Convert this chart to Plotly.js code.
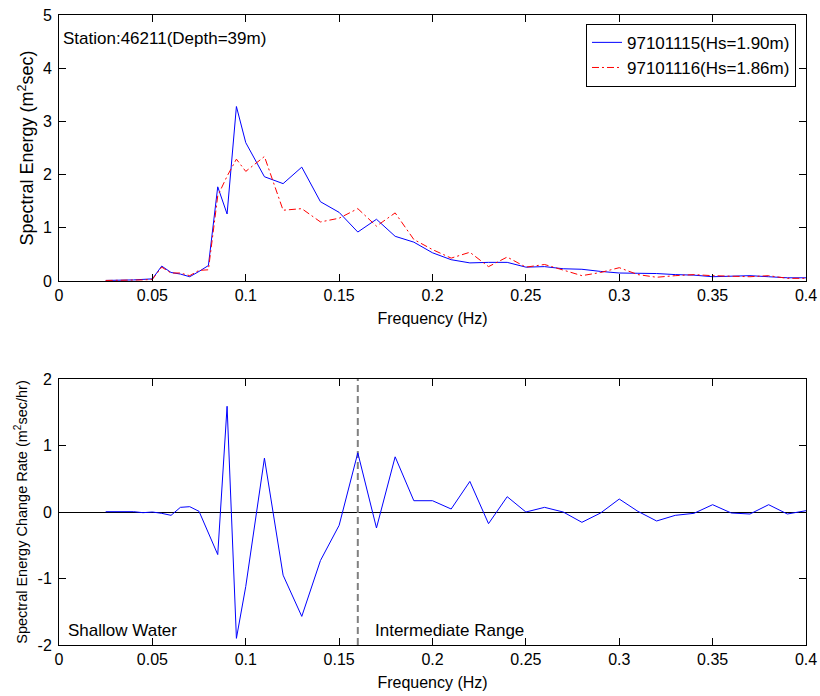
<!DOCTYPE html>
<html>
<head>
<meta charset="utf-8">
<script src="https://cdn.plot.ly/plotly-3.0.1.min.js"></script>
<style>html,body{margin:0;padding:0;background:#fff;}#chart{width:820px;height:696px;}</style>
</head>
<body>
<div id="chart"></div>
<script>
// Frequencies (Hz)
const freq = [0.025,0.03,0.035,0.04,0.045,0.05,0.055,0.06,0.065,0.07,0.075,0.08,0.085,0.09,0.095,0.1,
  0.11,0.12,0.13,0.14,0.15,0.16,0.17,0.18,0.19,0.2,0.21,0.22,0.23,0.24,0.25,0.26,0.27,0.28,0.29,0.3,
  0.31,0.32,0.33,0.34,0.35,0.36,0.37,0.38,0.39,0.4];
// Spectral energy, 97101115 (Hs=1.90m)
const energy15 = [0.01,0.01,0.01,0.02,0.03,0.04,0.28,0.16,0.13,0.08,0.18,0.29,1.77,1.26,3.28,2.6,
  1.96,1.83,2.14,1.49,1.29,0.92,1.16,0.84,0.73,0.53,0.40,0.34,0.35,0.35,0.26,0.27,0.23,0.22,0.18,0.15,
  0.145,0.14,0.12,0.11,0.08,0.085,0.10,0.08,0.06,0.06];
// Spectral energy, 97101116 (Hs=1.86m)
const energy16 = [0.01,0.01,0.01,0.01,0.02,0.03,0.26,0.15,0.15,0.10,0.20,0.21,1.6,1.97,2.29,2.06,
  2.34,1.33,1.36,1.11,1.18,1.36,1.03,1.28,0.78,0.59,0.43,0.54,0.27,0.45,0.26,0.31,0.21,0.10,0.16,0.25,
  0.12,0.07,0.10,0.12,0.10,0.09,0.08,0.10,0.05,0.05];
// Spectral energy change rate (m^2 sec/hr)
const changeRate = [0.005,0.005,0.005,0.005,-0.01,0.0,-0.02,-0.05,0.07,0.08,0.01,-0.31,-0.64,1.59,-1.90,-1.12,
  0.81,-0.95,-1.57,-0.73,-0.2,0.89,-0.24,0.83,0.17,0.17,0.045,0.46,-0.175,0.23,0.0,0.07,0.0,-0.155,-0.015,0.195,
  0.01,-0.135,-0.05,-0.02,0.11,-0.015,-0.03,0.11,-0.03,0.02];
// Shallow / intermediate boundary
const boundaryX = [0.16, 0.16];
const boundaryY = [-2, 2];
const seriesNames = ['97101115(Hs=1.90m)', '97101116(Hs=1.86m)'];
const xTickVals = [0,0.05,0.1,0.15,0.2,0.25,0.3,0.35,0.4];
const xTickText = ['0','0.05','0.1','0.15','0.2','0.25','0.3','0.35','0.4'];
const y1TickVals = [0,1,2,3,4,5];
const y1TickText = ['0','1','2','3','4','5'];
const y2TickVals = [-2,-1,0,1,2];
const y2TickText = ['-2','-1','0','1','2'];

const FONT = 'Arial, "Liberation Sans", sans-serif';
const fs = 16;

const traces = [
  {x: freq, y: energy15, name: seriesNames[0], type: 'scatter', mode: 'lines',
   line: {color: '#0000ff', width: 1}, xaxis: 'x', yaxis: 'y'},
  {x: freq, y: energy16, name: seriesNames[1], type: 'scatter', mode: 'lines',
   line: {color: '#ff0000', width: 1, dash: '7px,3px,2px,3px'}, xaxis: 'x', yaxis: 'y'},
  {x: boundaryX, y: boundaryY, type: 'scatter', mode: 'lines', showlegend: false,
   line: {color: '#808080', width: 2, dash: '7px,4px'}, xaxis: 'x2', yaxis: 'y2', hoverinfo: 'skip'},
  {x: freq, y: changeRate, type: 'scatter', mode: 'lines', showlegend: false,
   line: {color: '#0000ff', width: 1}, xaxis: 'x2', yaxis: 'y2'}
];

function xax(anchor, titleStandoff) {
  return {
    domain: [0, 1], anchor: anchor, range: [0, 0.4],
    tickvals: xTickVals, ticktext: xTickText,
    ticks: 'inside', ticklen: 7, tickcolor: '#000', tickwidth: 1,
    showline: true, linecolor: '#000', linewidth: 1, mirror: 'ticks',
    showgrid: false, zeroline: false,
    tickfont: {family: FONT, size: fs, color: '#000'},
    title: {text: 'Frequency (Hz)', font: {family: FONT, size: fs, color: '#000'}, standoff: titleStandoff}
  };
}

const layout = {
  width: 820, height: 696,
  margin: {l: 59, r: 14, t: 15, b: 51},
  paper_bgcolor: '#fff', plot_bgcolor: '#fff',
  font: {family: FONT, size: fs, color: '#000'},
  showlegend: true,
  legend: {x: 0.9866, y: 0.986, xanchor: 'right', yanchor: 'top',
    bordercolor: '#000', borderwidth: 1, bgcolor: '#fff',
    font: {family: FONT, size: 17, color: '#000'}, tracegroupgap: 0, itemwidth: 30},
  xaxis: xax('y', 9),
  yaxis: {
    domain: [0.5778, 1], anchor: 'x', range: [0, 5],
    tickvals: y1TickVals, ticktext: y1TickText,
    ticks: 'inside', ticklen: 7, tickcolor: '#000',
    showline: true, linecolor: '#000', linewidth: 1, mirror: 'ticks',
    showgrid: false, zeroline: false, ticklabelstandoff: 3,
    tickfont: {family: FONT, size: fs, color: '#000'},
    title: {text: 'Spectral Energy (m<sup>2</sup>sec)', font: {family: FONT, size: 18, color: '#000'}, standoff: 4}
  },
  xaxis2: xax('y2', 9),
  yaxis2: {
    domain: [0, 0.4222], anchor: 'x2', range: [-2, 2],
    tickvals: y2TickVals, ticktext: y2TickText,
    ticks: 'inside', ticklen: 7, tickcolor: '#000',
    showline: true, linecolor: '#000', linewidth: 1, mirror: 'ticks',
    showgrid: false, zeroline: true, zerolinecolor: '#000', zerolinewidth: 1, ticklabelstandoff: 3,
    tickfont: {family: FONT, size: fs, color: '#000'},
    title: {text: 'Spectral Energy Change Rate (m<sup>2</sup>sec/hr)', font: {family: FONT, size: 14.5, color: '#000'}, standoff: 6}
  },
  annotations: [
    {text: 'Station:46211(Depth=39m)', xref: 'x', yref: 'y', x: 0.001, y: 4.55,
     xanchor: 'left', yanchor: 'middle', showarrow: false, font: {family: FONT, size: 17, color: '#000'}},
    {text: 'Shallow Water', xref: 'x2', yref: 'y2', x: 0.004, y: -1.78,
     xanchor: 'left', yanchor: 'middle', showarrow: false, font: {family: FONT, size: 17, color: '#000'}},
    {text: 'Intermediate Range', xref: 'x2', yref: 'y2', x: 0.168, y: -1.78,
     xanchor: 'left', yanchor: 'middle', showarrow: false, font: {family: FONT, size: 17, color: '#000'}}
  ]
};

Plotly.newPlot('chart', traces, layout, {displayModeBar: false, staticPlot: true});
</script>
</body>
</html>
